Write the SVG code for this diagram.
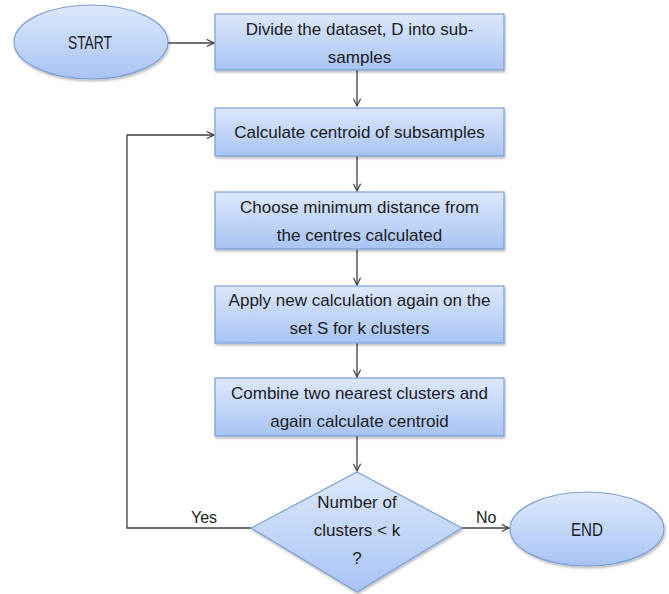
<svg xmlns="http://www.w3.org/2000/svg" width="669" height="594" viewBox="0 0 669 594">
  <defs>
    <linearGradient id="fillBlue" x1="0" y1="0" x2="0" y2="1">
      <stop offset="0" stop-color="#dde8fc"/>
      <stop offset="1" stop-color="#a8c4f4"/>
    </linearGradient>
    <filter id="shadow" x="-10%" y="-10%" width="120%" height="130%">
      <feDropShadow dx="1" dy="2" stdDeviation="1.2" flood-color="#000" flood-opacity="0.25"/>
    </filter>
    <marker id="arrow" viewBox="0 0 10 10" refX="9" refY="5" markerWidth="9" markerHeight="9" markerUnits="userSpaceOnUse" orient="auto">
      <path d="M1,1 L9,5 L1,9" fill="none" stroke="#404040" stroke-width="1.3"/>
    </marker>
  </defs>
  <style>
    .shape { fill: url(#fillBlue); stroke: #7b9fd6; stroke-width: 1.2; filter: url(#shadow); }
    .label { font-family: "Liberation Sans", Arial, sans-serif; font-size: 17px; fill: #1c1c1c; text-anchor: middle; }
    .terminal { font-size: 19px; }
    .edge { fill: none; stroke: #404040; stroke-width: 1.3; }
    .edge-label { font-family: "Liberation Sans", Arial, sans-serif; font-size: 16px; fill: #1c1c1c; }
  </style>
  <rect width="669" height="594" fill="#ffffff"/>

  <g id="connectors">
    <line class="edge" x1="168" y1="43" x2="214" y2="43" marker-end="url(#arrow)"/>
    <line class="edge" x1="357" y1="70" x2="357" y2="106" marker-end="url(#arrow)"/>
    <line class="edge" x1="357" y1="156" x2="357" y2="191" marker-end="url(#arrow)"/>
    <line class="edge" x1="357" y1="249" x2="357" y2="285" marker-end="url(#arrow)"/>
    <line class="edge" x1="357" y1="343" x2="357" y2="377" marker-end="url(#arrow)"/>
    <line class="edge" x1="357" y1="436" x2="357" y2="471" marker-end="url(#arrow)"/>
    <polyline class="edge" points="251,528 127,528 127,135 214,135" marker-end="url(#arrow)"/>
    <line class="edge" x1="462" y1="528" x2="509" y2="528" marker-end="url(#arrow)"/>
    <text class="edge-label" x="191" y="523">Yes</text>
    <text class="edge-label" x="476" y="523">No</text>
  </g>

  <g id="start">
    <ellipse class="shape" cx="91" cy="42" rx="77" ry="37"/>
    <text class="label terminal" x="90" y="49" textLength="44" lengthAdjust="spacingAndGlyphs">START</text>
  </g>

  <g id="divide">
    <rect class="shape" x="215" y="14" width="289" height="56"/>
    <text class="label" x="359.5" y="35">Divide the dataset, D into sub-</text>
    <text class="label" x="359.5" y="63">samples</text>
  </g>

  <g id="centroid">
    <rect class="shape" x="215" y="108" width="289" height="48"/>
    <text class="label" x="359.5" y="138">Calculate centroid of subsamples</text>
  </g>

  <g id="min-distance">
    <rect class="shape" x="215" y="192" width="289" height="57"/>
    <text class="label" x="359.5" y="213">Choose minimum distance from</text>
    <text class="label" x="359.5" y="241">the centres calculated</text>
  </g>

  <g id="recalculate">
    <rect class="shape" x="215" y="286" width="289" height="57"/>
    <text class="label" x="359.5" y="306">Apply new calculation again on the</text>
    <text class="label" x="359.5" y="334">set S for k clusters</text>
  </g>

  <g id="combine">
    <rect class="shape" x="215" y="378" width="289" height="58"/>
    <text class="label" x="359.5" y="399">Combine two nearest clusters and</text>
    <text class="label" x="359.5" y="427">again calculate centroid</text>
  </g>

  <g id="decision">
    <polygon class="shape" points="357,472 462,528 357,592 251,528"/>
    <text class="label" x="357" y="508">Number of</text>
    <text class="label" x="357" y="536">clusters &lt; k</text>
    <text class="label" x="357" y="564">?</text>
  </g>

  <g id="end">
    <ellipse class="shape" cx="587" cy="529" rx="77" ry="37"/>
    <text class="label terminal" x="587" y="536" textLength="32" lengthAdjust="spacingAndGlyphs">END</text>
  </g>
</svg>
